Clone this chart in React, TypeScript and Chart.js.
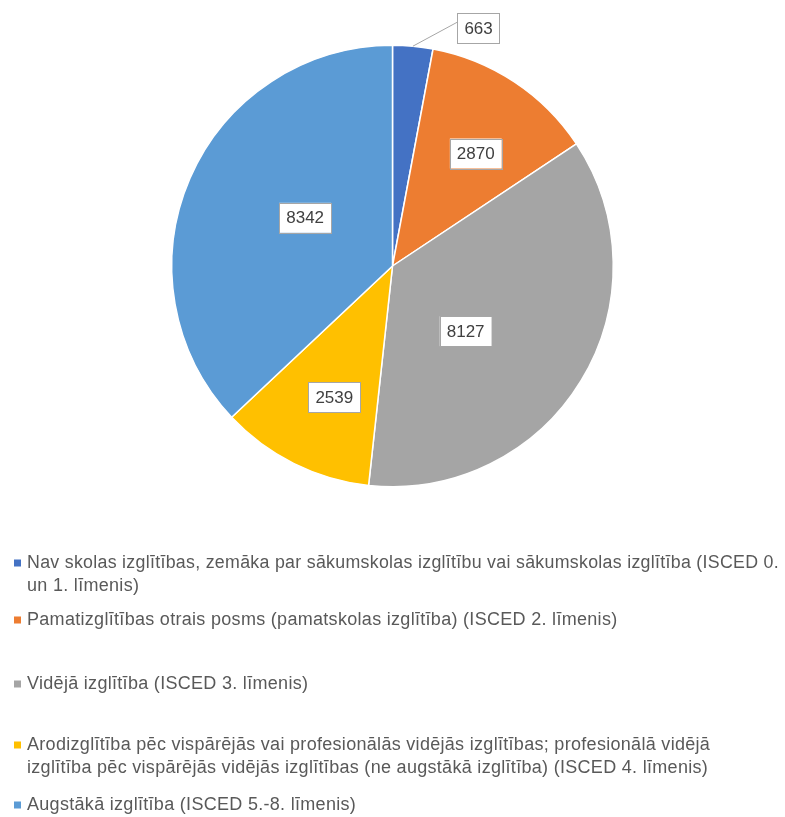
import React, { useEffect, useRef } from "react";
import { Chart, registerables } from "chart.js";
Chart.register(...registerables);

// ---- data ----
const categories: string[][] = [
  [
    "Nav skolas izglītības, zemāka par sākumskolas izglītību vai sākumskolas izglītība (ISCED 0.",
    "un 1. līmenis)",
  ],
  ["Pamatizglītības otrais posms (pamatskolas izglītība) (ISCED 2. līmenis)"],
  ["Vidējā izglītība (ISCED 3. līmenis)"],
  [
    "Arodizglītība pēc vispārējās vai profesionālās vidējās izglītības; profesionālā vidējā",
    "izglītība pēc vispārējās vidējās izglītības (ne augstākā izglītība) (ISCED 4. līmenis)",
  ],
  ["Augstākā izglītība (ISCED 5.-8. līmenis)"],
];
const values: number[] = [663, 2870, 8127, 2539, 8342];
const colors: string[] = ["#4472C4", "#ED7D31", "#A5A5A5", "#FFC000", "#5B9BD5"];

// ---- label / legend styling ----
const labelPlacement = [
  { r: 1.146, shift: 14.6, outside: true },
  { r: 0.634, shift: 3.0, outside: false },
  { r: 0.444, shift: 10.4, outside: false },
  { r: 0.651, shift: -2.6, outside: false },
  { r: 0.452, shift: 5.5, outside: false },
];
const legendItemY = [563, 620, 684, 745, 805];
const legendLineHeight = 23;

const dataLabelPlugin = {
  id: "boxLabels",
  afterDatasetsDraw(chart: any) {
    const ctx = chart.ctx;
    const meta = chart.getDatasetMeta(0);
    const ds = chart.data.datasets[0];
    ctx.save();
    ctx.font = "17px 'Liberation Sans', Arial, sans-serif";
    ctx.textAlign = "center";
    ctx.textBaseline = "middle";
    meta.data.forEach((arc: any, i: number) => {
      const { x, y, startAngle, endAngle, outerRadius } = arc.getProps(
        ["x", "y", "startAngle", "endAngle", "outerRadius"],
        true
      );
      const mid = (startAngle + endAngle) / 2;
      const p = labelPlacement[i];
      const a = mid + (p.shift * Math.PI) / 180;
      const cx = x + outerRadius * p.r * Math.cos(a);
      const cy = y + outerRadius * p.r * Math.sin(a);
      const text = String(ds.data[i]);
      const tw = ctx.measureText(text).width;
      const w = tw + 14;
      const h = 30;
      if (p.outside) {
        ctx.strokeStyle = "#A6A6A6";
        ctx.lineWidth = 1;
        ctx.beginPath();
        ctx.moveTo(x + outerRadius * Math.cos(mid), y + outerRadius * Math.sin(mid));
        ctx.lineTo(cx - w / 2, cy - 6);
        ctx.stroke();
      }
      ctx.fillStyle = "#FFFFFF";
      ctx.fillRect(cx - w / 2, cy - h / 2, w, h);
      ctx.strokeStyle = "#A6A6A6";
      ctx.lineWidth = 1;
      ctx.strokeRect(Math.round(cx - w / 2) + 0.5, Math.round(cy - h / 2) + 0.5, Math.round(w), h);
      ctx.fillStyle = "#404040";
      ctx.fillText(text, cx, cy + 1);
    });
    ctx.restore();
  },
};

const legendPlugin = {
  id: "wrappedLegend",
  afterDraw(chart: any) {
    const ctx = chart.ctx;
    const bg = chart.data.datasets[0].backgroundColor as string[];
    ctx.save();
    ctx.font = "18px 'Liberation Sans', Arial, sans-serif";
    try {
      (ctx as any).letterSpacing = "0.3px";
    } catch (e) {}
    ctx.textAlign = "left";
    ctx.textBaseline = "middle";
    const maxW = chart.width - 27 - 6;
    chart.data.labels.forEach((lbl: any, i: number) => {
      const lines: string[] = Array.isArray(lbl) ? lbl : [lbl];
      const y0 = legendItemY[i];
      ctx.fillStyle = bg[i];
      ctx.fillRect(14, y0 - 3.5, 7, 7);
      ctx.fillStyle = "#595959";
      lines.forEach((ln, j) => {
        ctx.fillText(ln, 27, y0 + j * legendLineHeight, maxW);
      });
    });
    ctx.restore();
  },
};

export default function App() {
  const ref = useRef<HTMLCanvasElement | null>(null);
  useEffect(() => {
    document.body.style.margin = "0";
    const canvas = ref.current;
    if (!canvas) return;
    const chart = new Chart(canvas, {
      type: "pie",
      data: {
        labels: categories as any,
        datasets: [
          {
            data: values,
            backgroundColor: colors,
            borderColor: "#FFFFFF",
            borderWidth: 1.5,
          },
        ],
      },
      options: {
        responsive: false,
        animation: false,
        layout: { padding: { left: 171, right: 171, top: 44, bottom: 329 } },
        plugins: {
          legend: { display: false },
          tooltip: { enabled: false },
        },
      },
      plugins: [dataLabelPlugin, legendPlugin],
    } as any);
    return () => chart.destroy();
  }, []);
  return (
    <div style={{ width: 785, height: 817, background: "#FFFFFF" }}>
      <canvas ref={ref} width={785} height={817} style={{ display: "block" }} />
    </div>
  );
}
